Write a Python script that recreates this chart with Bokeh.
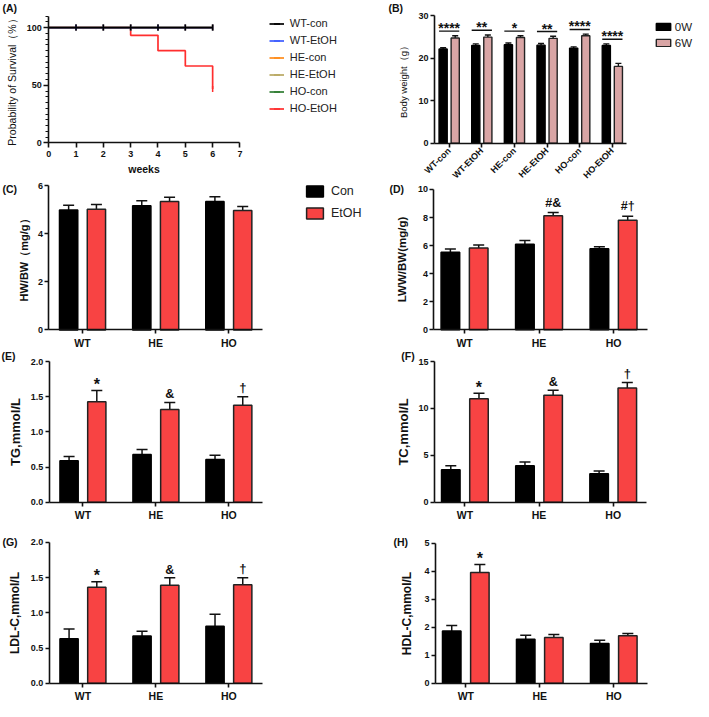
import math
from bokeh.plotting import figure
from bokeh.models import (Range1d, FixedTicker, SingleIntervalTicker, Label, Legend, LegendItem,
                          ColumnDataSource, Whisker, TeeHead, PrintfTickFormatter)
from bokeh.layouts import row, column
from bokeh.transform import dodge
from bokeh.core.properties import value
from bokeh.embed import file_html
from bokeh.resources import INLINE

# ---------------- data: (A) survival ----------------
surv_groups = ["WT-con", "WT-EtOH", "HE-con", "HE-EtOH", "HO-con", "HO-EtOH"]
km_weeks_no_death = [0, 6]
km_surv_no_death = [100, 100]
km_weeks_ho_etoh = [0, 3, 4, 5, 6]
km_surv_ho_etoh = [100, 93.3, 80.0, 66.7, 46.7]
censor_weeks = [1, 2, 3, 4, 5, 6]
week_ticks = [0, 1, 2, 3, 4, 5, 6, 7]

# ---------------- data: (B) body weight ----------------
bw_groups = ["WT-con", "WT-EtOH", "HE-con", "HE-EtOH", "HO-con", "HO-EtOH"]
bw_0w = [22.2, 23.0, 23.2, 23.1, 22.4, 23.0]
bw_0w_err = [0.3, 0.4, 0.4, 0.4, 0.3, 0.4]
bw_6w = [24.8, 25.0, 24.9, 24.7, 25.3, 18.1]
bw_6w_err = [0.5, 0.5, 0.4, 0.5, 0.4, 0.7]
bw_sig = ["****", "**", "*", "**", "****", "****"]
bw_ticks = [0, 10, 20, 30]

# ---------------- data: (C)-(H) ----------------
genotypes = ["WT", "HE", "HO"]
hw_con = [4.98, 5.16, 5.34]
hw_con_err = [0.20, 0.21, 0.20]
hw_etoh = [5.02, 5.34, 4.96]
hw_etoh_err = [0.19, 0.18, 0.17]
hw_marks = ["", "", ""]
hw_ticks = [0, 2, 4, 6]

lw_con = [5.53, 6.09, 5.77]
lw_con_err = [0.23, 0.28, 0.14]
lw_etoh = [5.82, 8.13, 7.80]
lw_etoh_err = [0.22, 0.23, 0.29]
lw_marks = ["", "#&", "#†"]
lw_ticks = [0, 2, 4, 6, 8, 10]

tg_con = [0.59, 0.68, 0.61]
tg_con_err = [0.06, 0.07, 0.06]
tg_etoh = [1.43, 1.32, 1.38]
tg_etoh_err = [0.16, 0.10, 0.12]
tg_marks = ["*", "&", "†"]
tg_ticks = [0.0, 0.5, 1.0, 1.5, 2.0]

tc_con = [3.47, 3.89, 3.05]
tc_con_err = [0.42, 0.41, 0.28]
tc_etoh = [11.04, 11.40, 12.19]
tc_etoh_err = [0.59, 0.55, 0.58]
tc_marks = ["*", "&", "†"]
tc_ticks = [0, 5, 10, 15]

ldl_con = [0.63, 0.67, 0.81]
ldl_con_err = [0.14, 0.07, 0.17]
ldl_etoh = [1.365, 1.39, 1.40]
ldl_etoh_err = [0.075, 0.11, 0.10]
ldl_marks = ["*", "&", "†"]
ldl_ticks = [0.0, 0.5, 1.0, 1.5, 2.0]

hdl_con = [1.86, 1.57, 1.42]
hdl_con_err = [0.20, 0.14, 0.11]
hdl_etoh = [3.95, 1.63, 1.69]
hdl_etoh_err = [0.29, 0.11, 0.08]
hdl_marks = ["*", "", ""]
hdl_ticks = [0, 1, 2, 3, 4, 5]

# ---------------- styling ----------------
SX = 693 / 709
SY = 701 / 717
FONT = "Liberation Sans"
INK = "#111111"
RED = "#f84343"
PINK = "#d9a5a5"
EDGE = "#222222"
SURV_COLORS = {"WT-con": "#000000", "WT-EtOH": "#3d5cff", "HE-con": "#ff8c1a",
               "HE-EtOH": "#b9a862", "HO-con": "#2f7d32", "HO-EtOH": "#ff2e2e"}
MARK_DY = {"": 0, "*": -6, "&": -8, "†": -9, "#&": -9, "#†": -10}
MARK_FS = {"": "12px", "*": "16px", "&": "12.5px", "†": "13px", "#&": "12.5px", "#†": "12.5px"}


def X(v):
    return int(round(SX * v))


def Y(v):
    return int(round(SY * v))


def make_fig(canvas, plot, xr, yr):
    """canvas / plot rectangles are given in reference pixels; the plotting frame is the
    whole canvas and the axes are pinned (fixed_location + bounds) to the plot rectangle."""
    cx0, cy0, cx1, cy1 = canvas
    fx0, fy0, fx1, fy1 = plot
    W = X(cx1) - X(cx0)
    H = Y(cy1) - Y(cy0)
    pl, pr = SX * fx0 - X(cx0), SX * fx1 - X(cx0)
    kx = (xr[1] - xr[0]) / (pr - pl)
    pb, pt = Y(cy1) - SY * fy1, Y(cy1) - SY * fy0
    ky = (yr[1] - yr[0]) / (pt - pb)
    p = figure(width=W, height=H,
               x_range=Range1d(xr[0] - pl * kx, xr[0] + (W - pl) * kx),
               y_range=Range1d(yr[0] - pb * ky, yr[0] + (H - pb) * ky),
               output_backend="svg", toolbar_location=None, min_border=0,
               min_border_left=0, min_border_right=0, min_border_top=0, min_border_bottom=0)
    p.outline_line_color = None
    p.grid.visible = False
    p.xaxis.fixed_location = yr[0]
    p.xaxis.bounds = xr
    p.yaxis.fixed_location = xr[0]
    p.yaxis.bounds = yr
    for ax in p.axis:
        ax.axis_line_color = INK
        ax.axis_line_width = 1.6
        ax.major_tick_line_color = INK
        ax.major_tick_line_width = 1.6
        ax.major_tick_in = 0
        ax.major_tick_out = 4
        ax.minor_tick_line_color = None
        ax.major_label_text_font = FONT
        ax.major_label_text_font_style = "bold"
        ax.major_label_text_font_size = "9px"
        ax.major_label_text_color = INK
        ax.major_label_standoff = 2
        ax.axis_label_text_font = FONT
        ax.axis_label_text_color = INK
        ax.axis_label_text_font_style = "bold"
    return p


def scr(canvas, xr, yr):
    """reference-pixel position -> screen position inside the canvas (from bottom-left)"""
    return SX * xr - X(canvas[0]), Y(canvas[3]) - SY * yr


def letter(p, canvas, text, xr, yr):
    sx, sy = scr(canvas, xr, yr)
    p.add_layout(Label(x=sx, y=sy, x_units="screen", y_units="screen", text=text,
                       text_font=FONT, text_font_style="bold", text_font_size="10.5px",
                       text_color=INK, text_align="left", text_baseline="middle"))


# ================= (A) survival =================
A_canvas, A_plot = (0, 0, 385, 185), (49.3, 15.9, 245, 145.7)
pA = make_fig(A_canvas, A_plot, (0, 7), (0, 110))
pA.xaxis.ticker = FixedTicker(ticks=week_ticks)
pA.xaxis.major_tick_out = 5
pA.xaxis.major_label_standoff = 3
pA.xaxis.axis_label = "weeks"
pA.xaxis.axis_label_text_font_size = "10.5px"
pA.xaxis.axis_label_standoff = 3
pA.yaxis.ticker = SingleIntervalTicker(interval=50, num_minor_ticks=10)
pA.yaxis.major_tick_out = 5
pA.yaxis.minor_tick_line_color = INK
pA.yaxis.minor_tick_line_width = 1.2
pA.yaxis.minor_tick_out = 3
pA.yaxis.minor_tick_in = 0
pA.yaxis.axis_label = "Probability of Survival（%）"
pA.yaxis.axis_label_text_font_style = "normal"
pA.yaxis.axis_label_text_font_size = "10.5px"
pA.yaxis.axis_label_standoff = 5

line_r, tick_r = {}, {}
for g in ["HO-EtOH", "HO-con", "HE-EtOH", "HE-con", "WT-EtOH", "WT-con"]:
    if g == "HO-EtOH":
        t, s = km_weeks_ho_etoh, km_surv_ho_etoh
        ct, cs = [t[-1]], [s[-1]]
    else:
        t, s = km_weeks_no_death, km_surv_no_death
        ct, cs = censor_weeks, [s[0]] * len(censor_weeks)
    c = SURV_COLORS[g]
    line_r[g] = pA.step(t, s, mode="after", line_color=c, line_width=1.7)
    tick_r[g] = pA.scatter(ct, cs, marker="dash", angle=math.pi / 2, size=6,
                           line_color=c, line_width=1.5)

lx, _ = scr(A_canvas, 275, 0)
top = SY * 24 - 7.5
bottom = top + 6 * 15 + 5 * 2
legA = Legend(items=[LegendItem(label=g, renderers=[line_r[g], tick_r[g]]) for g in surv_groups],
              location=(lx, Y(A_canvas[3]) - bottom), glyph_width=15, glyph_height=15,
              label_height=15, spacing=2, padding=0, margin=0, label_standoff=6,
              label_text_font=FONT, label_text_font_size="11px", label_text_color="#222222",
              border_line_color=None, background_fill_alpha=0)
pA.add_layout(legA)
letter(pA, A_canvas, "(A)", 2, 8)

# ================= (B) body weight =================
B_canvas, B_plot = (385, 0, 709, 187), (444, 15.7, 640, 146)
pB = make_fig(B_canvas, B_plot, (-0.45, 5.42), (0, 30))
bidx = list(range(len(bw_groups)))
pB.xaxis.ticker = FixedTicker(ticks=bidx)
pB.xaxis.major_label_overrides = {i: g for i, g in zip(bidx, bw_groups)}
pB.xaxis.major_label_orientation = math.pi / 4
pB.xaxis.major_label_text_font_size = "9px"
pB.yaxis.ticker = FixedTicker(ticks=bw_ticks)
pB.yaxis.axis_label = "Body weight（g）"
pB.yaxis.axis_label_text_font_style = "normal"
pB.yaxis.axis_label_text_font_size = "9.5px"
pB.yaxis.axis_label_standoff = 6

srcB = ColumnDataSource(dict(
    idx=bidx, w0=bw_0w, w6=bw_6w,
    w0_top=[a + b for a, b in zip(bw_0w, bw_0w_err)],
    w6_top=[a + b for a, b in zip(bw_6w, bw_6w_err)],
    sig=bw_sig,
    sig_y=[max(a + b, c + d) + 1.1 for a, b, c, d in zip(bw_0w, bw_0w_err, bw_6w, bw_6w_err)],
))
rb0 = pB.vbar(x=dodge("idx", -0.185), top="w0", width=0.25, bottom=0, source=srcB,
              fill_color="#000000", line_color="#000000", line_width=1.4)
rb6 = pB.vbar(x=dodge("idx", 0.185), top="w6", width=0.25, bottom=0, source=srcB,
              fill_color=PINK, line_color=EDGE, line_width=1.4)
for base, lo, hi in [(dodge("idx", -0.185), "w0", "w0_top"), (dodge("idx", 0.185), "w6", "w6_top")]:
    pB.add_layout(Whisker(source=srcB, base=base, lower=lo, upper=hi, dimension="height",
                          line_color=INK, line_width=1.4, lower_head=None,
                          upper_head=TeeHead(size=6, line_color=INK, line_width=1.4)))
pB.segment(x0=dodge("idx", -0.31), y0="sig_y", x1=dodge("idx", 0.31), y1="sig_y",
           source=srcB, line_color=INK, line_width=1.4)
pB.text(x="idx", y="sig_y", text="sig", source=srcB, text_align="center",
        text_baseline="alphabetic", y_offset=-3, text_font=value(FONT),
        text_font_style="bold", text_font_size="14px", text_color=INK)
bx, _ = scr(B_canvas, 670.7 - 1.8, 0)
b_top = SY * 24 - 4.5
legB = Legend(items=[LegendItem(label="0W", renderers=[rb0]), LegendItem(label="6W", renderers=[rb6])],
              location=(bx, Y(B_canvas[3]) - (b_top + 30)), glyph_width=18, glyph_height=9,
              label_height=9, spacing=4, padding=0, margin=0, label_standoff=3,
              label_text_font=FONT, label_text_font_size="11.5px", label_text_color="#222222",
              border_line_color=None, background_fill_alpha=0)
pB.add_layout(legB)
letter(pB, B_canvas, "(B)", 397, 8)


# ================= bar panels (C)-(H) =================
def bar_panel(canvas, plot, xr, ymax, ticks, con, con_err, etoh, etoh_err, marks,
              ylabel, ylabel_size, standoff, fmt=None):
    p = make_fig(canvas, plot, xr, (0, ymax))
    idx = list(range(len(genotypes)))
    p.xaxis.ticker = FixedTicker(ticks=idx)
    p.xaxis.major_label_overrides = {i: g for i, g in zip(idx, genotypes)}
    p.xaxis.major_label_text_font_size = "10.5px"
    p.xaxis.major_label_standoff = 3
    p.yaxis.ticker = FixedTicker(ticks=ticks)
    if fmt:
        p.yaxis.formatter = PrintfTickFormatter(format=fmt)
    p.yaxis.axis_label = ylabel
    p.yaxis.axis_label_text_font_size = ylabel_size
    p.yaxis.axis_label_standoff = standoff
    src = ColumnDataSource(dict(
        idx=idx, con=con, etoh=etoh,
        con_top=[a + b for a, b in zip(con, con_err)],
        etoh_top=[a + b for a, b in zip(etoh, etoh_err)],
        mark=marks, mark_dy=[MARK_DY[m] for m in marks], mark_fs=[MARK_FS[m] for m in marks],
    ))
    rc = p.vbar(x=dodge("idx", -0.19), top="con", width=0.25, bottom=0, source=src,
                fill_color="#000000", line_color="#000000", line_width=1.5)
    re = p.vbar(x=dodge("idx", 0.19), top="etoh", width=0.25, bottom=0, source=src,
                fill_color=RED, line_color=EDGE, line_width=1.5)
    for base, lo, hi in [(dodge("idx", -0.19), "con", "con_top"), (dodge("idx", 0.19), "etoh", "etoh_top")]:
        p.add_layout(Whisker(source=src, base=base, lower=lo, upper=hi, dimension="height",
                             line_color=INK, line_width=1.5, lower_head=None,
                             upper_head=TeeHead(size=11, line_color=INK, line_width=1.5)))
    p.text(x=dodge("idx", 0.19), y="etoh_top", text="mark", source=src, text_align="center",
           text_baseline="alphabetic", y_offset="mark_dy", text_font=value(FONT),
           text_font_style="bold", text_font_size="mark_fs", text_color=INK)
    return p, rc, re


LX = (-0.46, 2.46)
RX = (-0.41, 2.45)

C_canvas, C_plot = (0, 185, 385, 357), (49.5, 189.3, 268, 337)
pC, rcC, reC = bar_panel(C_canvas, C_plot, LX, 6, hw_ticks, hw_con, hw_con_err, hw_etoh,
                         hw_etoh_err, hw_marks, "HW/BW（mg/g）", "11px", 4)
letter(pC, C_canvas, "(C)", 2, 193)
cx, _ = scr(C_canvas, 313 - 2.1, 0)
c_top = SY * 195.5 - 7
legC = Legend(items=[LegendItem(label="Con", renderers=[rcC]), LegendItem(label="EtOH", renderers=[reC])],
              location=(cx, Y(C_canvas[3]) - (c_top + 36)), glyph_width=21, glyph_height=14,
              label_height=14, spacing=8, padding=0, margin=0, label_standoff=6,
              label_text_font=FONT, label_text_font_size="12.5px", label_text_color="#222222",
              border_line_color=None, background_fill_alpha=0)
pC.add_layout(legC)

D_canvas, D_plot = (385, 187, 709, 358), (443.5, 193.3, 661.5, 336.7)
pD, _, _ = bar_panel(D_canvas, D_plot, RX, 10, lw_ticks, lw_con, lw_con_err, lw_etoh,
                     lw_etoh_err, lw_marks, "LWW/BW(mg/g)", "11.5px", 6)
letter(pD, D_canvas, "(D)", 398, 193)

E_canvas, E_plot = (0, 357, 385, 546), (50, 369.3, 268, 513.3)
pE, _, _ = bar_panel(E_canvas, E_plot, LX, 2, tg_ticks, tg_con, tg_con_err, tg_etoh,
                     tg_etoh_err, tg_marks, "TG,mmol/L", "13px", 5, "%.1f")
letter(pE, E_canvas, "(E)", 1, 363.5)

F_canvas, F_plot = (385, 358, 709, 546), (444, 369.3, 661, 513.3)
pF, _, _ = bar_panel(F_canvas, F_plot, RX, 15, tc_ticks, tc_con, tc_con_err, tc_etoh,
                     tc_etoh_err, tc_marks, "TC,mmol/L", "13px", 4)
letter(pF, F_canvas, "(F)", 410, 363.5)

G_canvas, G_plot = (0, 546, 385, 717), (50, 554.3, 268, 698.3)
pG, _, _ = bar_panel(G_canvas, G_plot, LX, 2, ldl_ticks, ldl_con, ldl_con_err, ldl_etoh,
                     ldl_etoh_err, ldl_marks, "LDL-C,mmol/L", "12px", 6, "%.1f")
letter(pG, G_canvas, "(G)", 2, 554)

H_canvas, H_plot = (385, 546, 709, 717), (445, 555, 661.5, 698.3)
pH, _, _ = bar_panel(H_canvas, H_plot, RX, 5, hdl_ticks, hdl_con, hdl_con_err, hdl_etoh,
                     hdl_etoh_err, hdl_marks, "HDL-C,mmol/L", "12px", 7)
letter(pH, H_canvas, "(H)", 402, 554)

layout = row(column(pA, pC, pE, pG, spacing=0), column(pB, pD, pF, pH, spacing=0), spacing=0)

with open("out.html", "w") as f:
    f.write(file_html(layout, INLINE))
